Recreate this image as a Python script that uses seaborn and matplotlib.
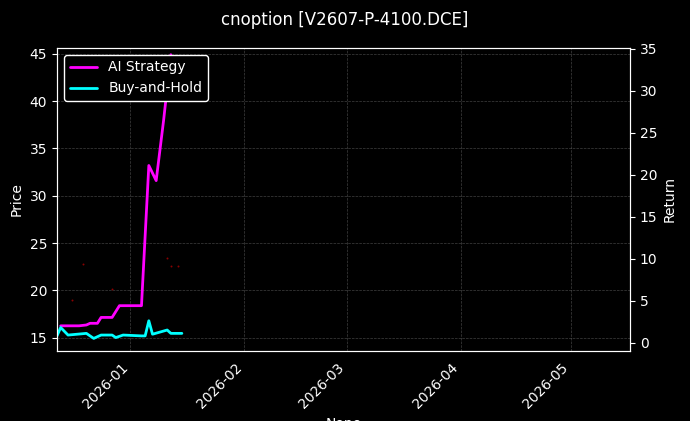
import matplotlib
matplotlib.use("Agg")
import matplotlib.pyplot as plt
import matplotlib.dates as mdates
import seaborn as sns
import pandas as pd
import numpy as np

sns.set_style("dark")
plt.style.use("dark_background")
plt.rcParams['font.family'] = ['DejaVu Sans']
plt.rcParams['font.size'] = 10

ai_dates = ["2025-12-13","2025-12-15","2025-12-18","2025-12-20","2025-12-21","2025-12-23","2025-12-24",
            "2025-12-27","2025-12-29","2025-12-31","2026-01-04","2026-01-06","2026-01-08","2026-01-10","2026-01-12"]
ai_ret = [2.0,2.0,2.0,2.1,2.3,2.3,3.0,3.0,4.4,4.4,4.4,21.1,19.3,26.4,34.3]

bh_dates = ["2025-12-12","2025-12-13","2025-12-15","2025-12-20","2025-12-22","2025-12-24","2025-12-27",
            "2025-12-28","2025-12-30","2026-01-04","2026-01-05","2026-01-06","2026-01-07","2026-01-11","2026-01-12","2026-01-15"]
bh_ret = [0.8,1.8,0.9,1.1,0.5,0.9,0.9,0.6,0.9,0.8,0.8,2.6,1.0,1.5,1.1,1.1]

px_dates = ["2025-12-16","2025-12-19","2025-12-27","2026-01-11","2026-01-12","2026-01-14"]
px_vals = [19.0,22.8,20.1,23.4,22.6,22.6]

fig = plt.figure(figsize=(6.9,4.21), dpi=100, facecolor="black")
ax1 = fig.add_axes([57/690, 1-351/421, (630-57)/690, (351-48)/421])
ax1.set_facecolor("black")
ax2 = ax1.twinx()

sns.scatterplot(x=pd.to_datetime(px_dates), y=px_vals, ax=ax1, color="#8b0000", s=2, linewidth=0)
ax1.set_ylim(13.6, 45.6)
ax1.set_ylabel("Price")
ax1.grid(True, color="gray", linestyle="--", linewidth=0.5, alpha=0.5)

sns.lineplot(x=pd.to_datetime(ai_dates), y=ai_ret, ax=ax2, color="magenta", linewidth=2, label="AI Strategy")
sns.lineplot(x=pd.to_datetime(bh_dates), y=bh_ret, ax=ax2, color="cyan", linewidth=2, label="Buy-and-Hold")
ax2.set_ylim(-1.0, 35.1)
ax2.set_ylabel("Return")
ax2.legend(loc="upper left", facecolor="black", edgecolor="white", framealpha=1)

ax1.set_xlim(pd.Timestamp("2025-12-12"), pd.Timestamp("2026-05-17"))
ax1.xaxis.set_major_locator(mdates.MonthLocator())
ax1.xaxis.set_major_formatter(mdates.DateFormatter("%Y-%m"))
for lab in ax1.get_xticklabels():
    lab.set_rotation(45); lab.set_ha("right")

fig.suptitle("cnoption [V2607-P-4100.DCE]", y=0.975, fontsize=12)
fig.savefig("out.png", dpi=100, facecolor="black")
